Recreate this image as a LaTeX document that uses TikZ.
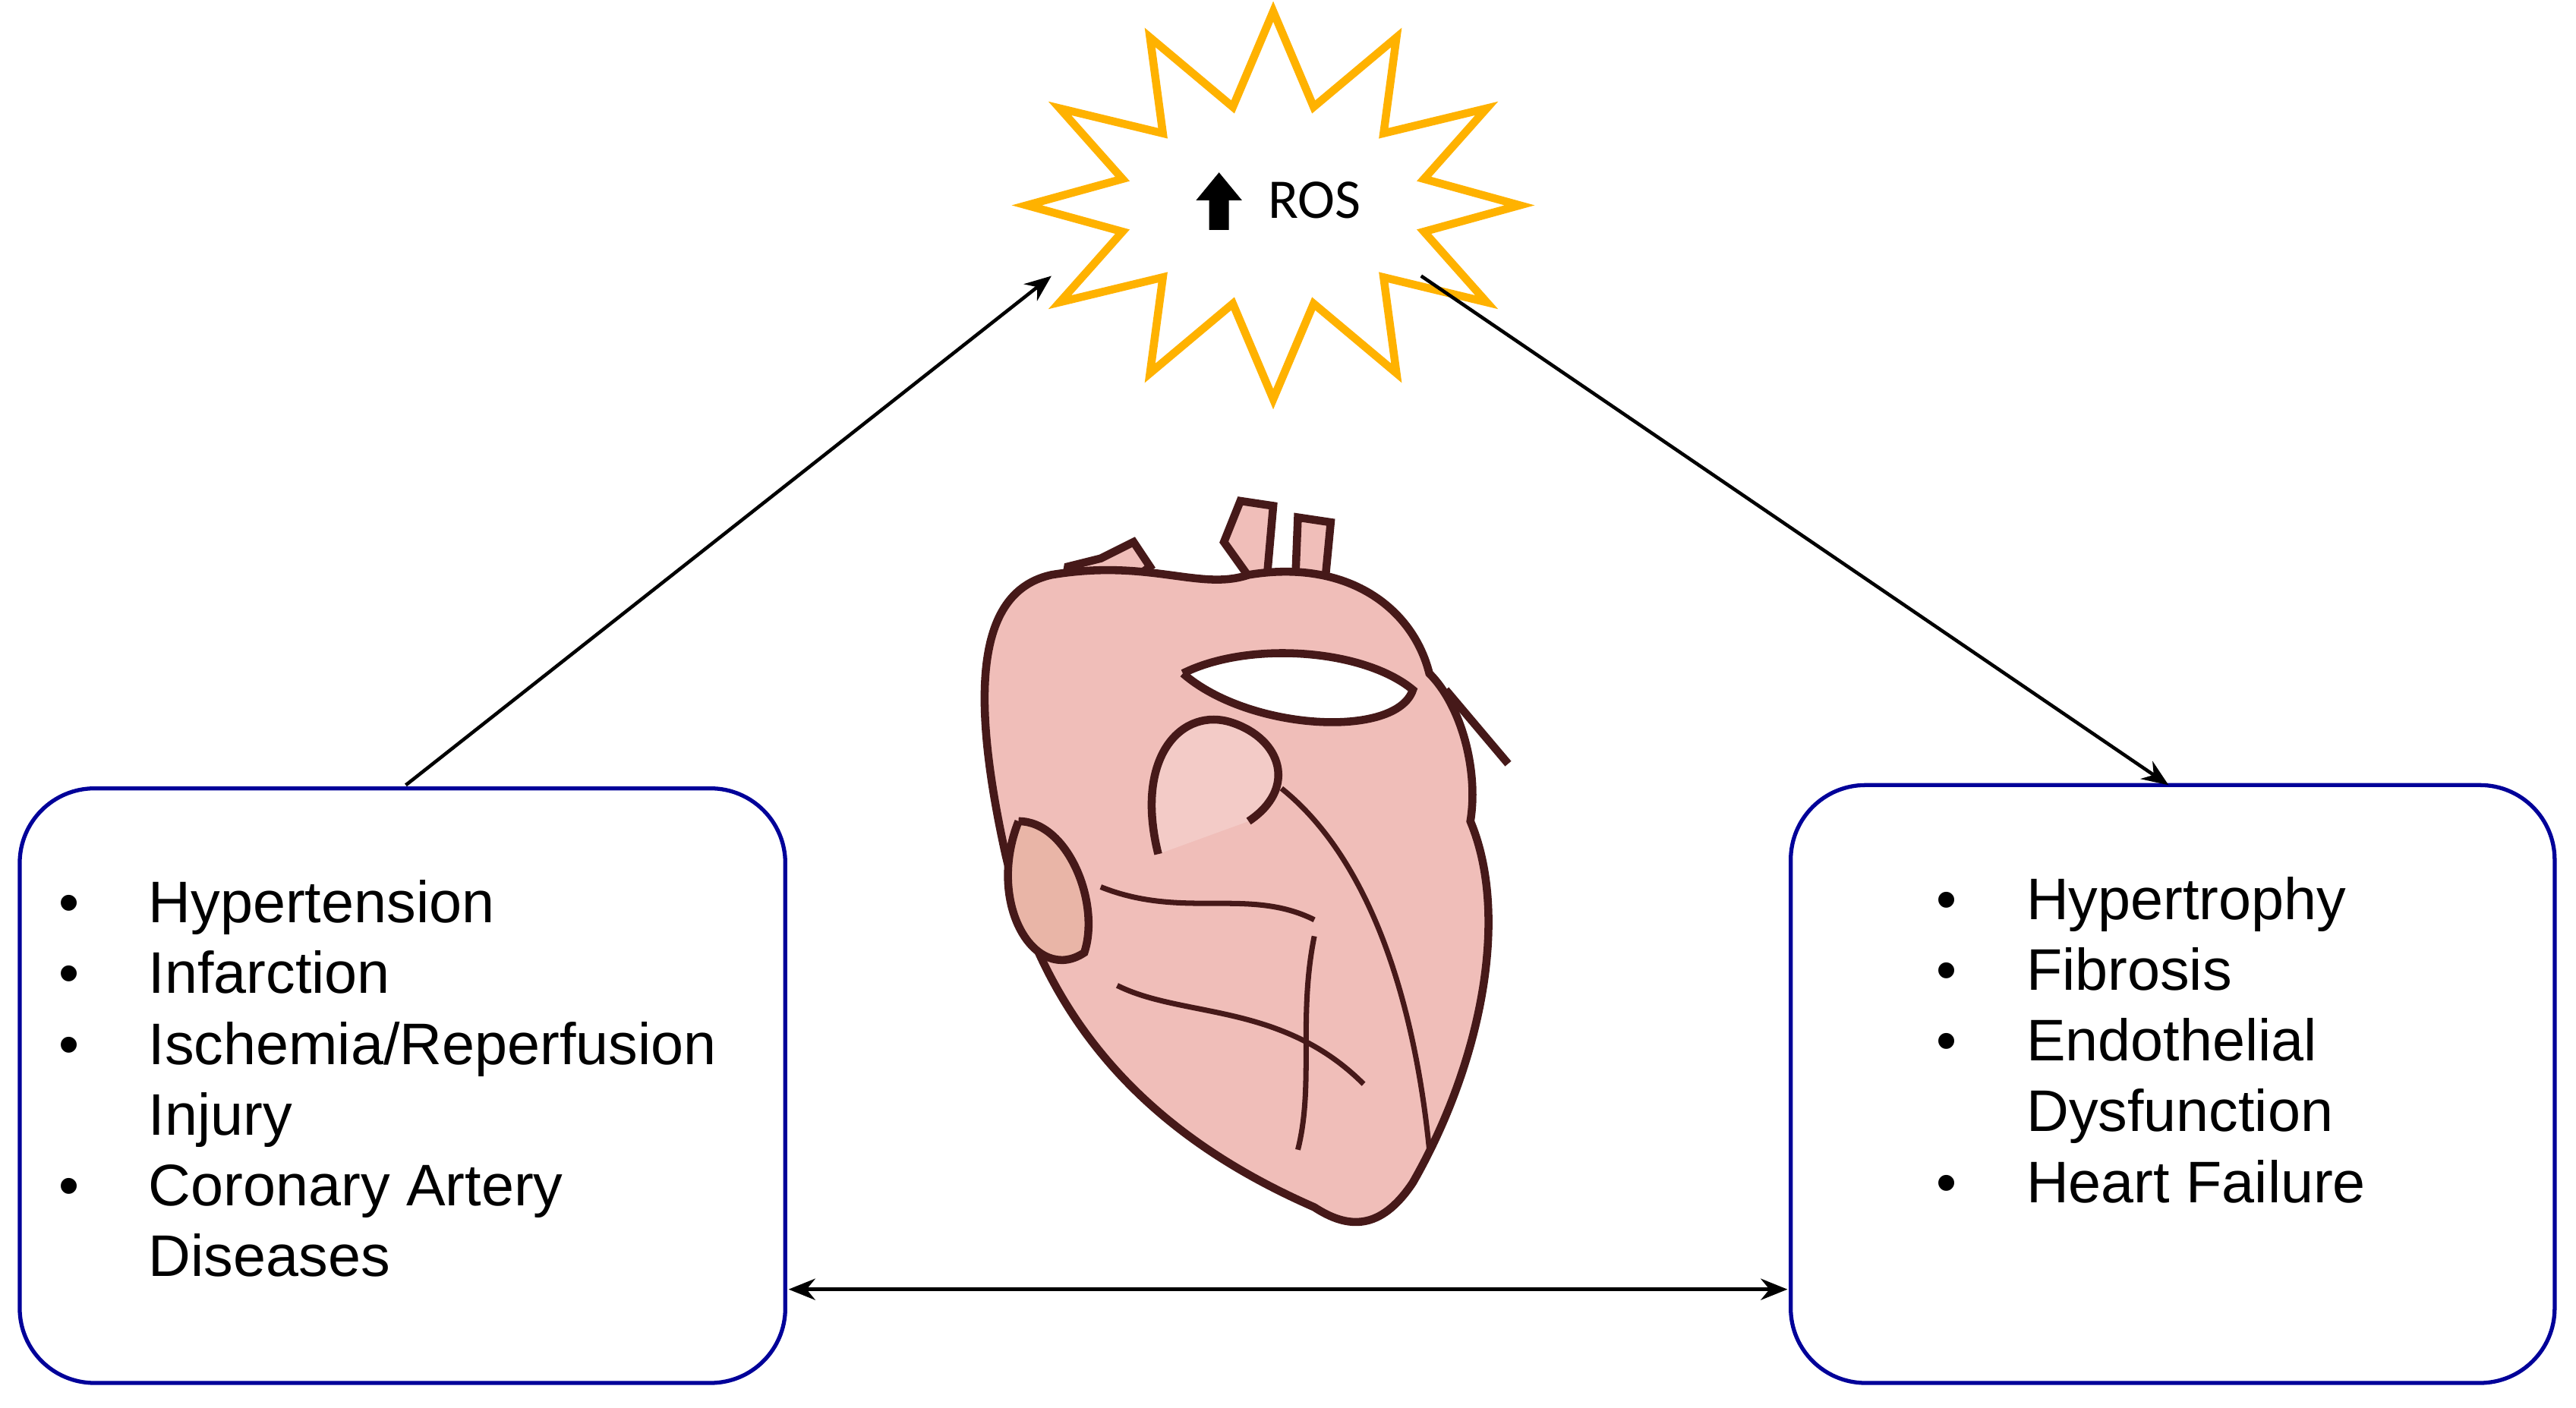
\documentclass[tikz,border=0pt]{standalone}
\usepackage{fontspec}
\setmainfont{Liberation Sans}
\newfontfamily\carlitofont{Carlito}
\usetikzlibrary{arrows.meta}
\begin{document}
\begin{tikzpicture}[x=0.02164cm,y=-0.02164cm,
  box/.style={draw=blue!60!black,line width=1.5pt,rounded corners=28pt},
  conn/.style={line width=1.3pt,-{Stealth[length=10pt,width=8pt]}},
  txt/.style={font=\fontsize{22}{26.5}\selectfont,align=left,anchor=north west}]
\useasboundingbox (0,0) rectangle (1568,857);
\draw[box] (12,480) rectangle (478,842);
\draw[box] (1090,478) rectangle (1555,842);
% star
\draw[draw=orange!60!yellow,line width=3pt,fill=white]
  plot[samples=25,domain=0:24] ({775+(mod(\x,2)==0?150:95)*cos(90+15*\x)},{125-(mod(\x,2)==0?118:62)*sin(90+15*\x)}) -- cycle;
\node[font=\carlitofont\fontsize{21}{25}\selectfont] (ros) at (800,122) {ROS};
\fill (736,140) -- (736,122) -- (728,122) -- (742,105) -- (756,122) -- (748,122) -- (748,140) -- cycle;
\coordinate (s1) at (640,168);
\coordinate (s2) at (865,168);
\coordinate (l1) at (247,478);
\coordinate (r1) at (1320,478);
\draw[conn] (l1) -- (s1);
\draw[conn] (s2) -- (r1);
\coordinate (a1) at (480,785);
\coordinate (a2) at (1088,785);
\draw[line width=1.3pt,{Stealth[length=10pt,width=8pt]}-{Stealth[length=10pt,width=8pt]}] (a1) -- (a2);
% texts
\node[txt] (lt) at (30,526) {\begin{tabular}{@{}l@{\hspace{26pt}}l@{}}
\textbullet & Hypertension\\ \textbullet & Infarction\\ \textbullet & Ischemia/Reperfusion\\ & Injury\\ \textbullet & Coronary Artery\\ & Diseases\end{tabular}};
\node[txt] (rt) at (1173,524) {\begin{tabular}{@{}l@{\hspace{26pt}}l@{}}
\textbullet & Hypertrophy\\ \textbullet & Fibrosis\\ \textbullet & Endothelial\\ & Dysfunction\\ \textbullet & Heart Failure\end{tabular}};
% heart
\definecolor{hp}{RGB}{240,190,185}
\definecolor{hd}{RGB}{70,25,25}
\begin{scope}[line width=3pt]
\filldraw[draw=hd,fill=hp] (745,330) -- (755,305) -- (775,308) -- (770,365) -- cycle;
\filldraw[draw=hd,fill=hp] (790,315) -- (810,318) -- (805,370) -- (788,365) -- cycle;
\filldraw[draw=hd,fill=hp] (645,375) -- (650,345) -- (670,340) -- (690,330) -- (700,345) -- (680,360) -- (690,390) -- cycle;
\filldraw[draw=hd,fill=hp] (612,520) .. controls (590,420) and (595,360) .. (640,350)
  .. controls (700,340) and (730,360) .. (760,350)
  .. controls (820,340) and (860,370) .. (870,410)
  .. controls (890,430) and (900,470) .. (895,500)
  .. controls (920,560) and (900,650) .. (860,720)
  .. controls (840,750) and (820,748) .. (800,735)
  .. controls (720,700) and (640,640) .. (612,520) -- cycle;
\draw[hd] (880,420) -- (918,465);
\filldraw[draw=hd,fill=white] (720,410) .. controls (760,390) and (830,395) .. (860,420) .. controls (850,450) and (760,445) .. (720,410);
\filldraw[draw=hd,fill=hp!80!white] (705,520) .. controls (690,460) and (720,430) .. (750,440) .. controls (780,450) and (790,480) .. (760,500);
\filldraw[draw=hd,fill=hp!85!brown] (620,500) .. controls (600,550) and (630,600) .. (660,580) .. controls (670,550) and (650,500) .. (620,500);
\draw[hd,line width=2pt] (780,480) .. controls (830,520) and (860,600) .. (870,700);
\draw[hd,line width=2pt] (670,540) .. controls (720,560) and (760,540) .. (800,560);
\draw[hd,line width=2pt] (680,600) .. controls (720,620) and (780,610) .. (830,660);
\draw[hd,line width=2pt] (800,570) .. controls (790,620) and (800,660) .. (790,700);
\end{scope}
\end{tikzpicture}
\end{document}
